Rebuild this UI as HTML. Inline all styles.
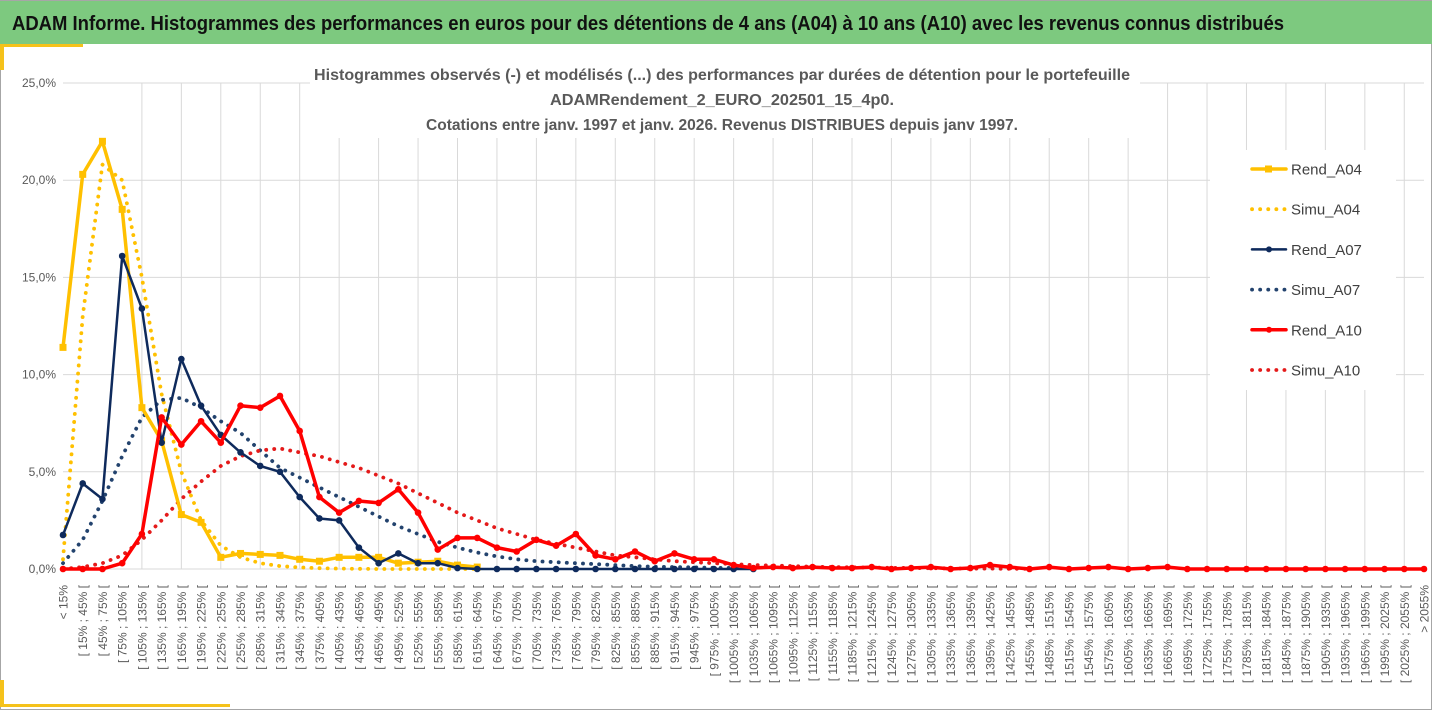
<!DOCTYPE html>
<html><head><meta charset="utf-8"><style>
html,body{margin:0;padding:0;background:#fff;}
svg{display:block;font-family:"Liberation Sans Narrow","Liberation Sans",sans-serif;}
</style></head><body>
<svg id="chart" width="1432" height="710" viewBox="0 0 1432 710">
<rect x="0" y="0" width="1432" height="710" fill="#fff"/>
<rect x="0.5" y="0.5" width="1431" height="709" fill="none" stroke="#a6a6a6"/>
<rect x="0" y="1" width="1432" height="43" fill="#7dc97f"/>
<text x="12" y="30" font-size="20" font-weight="bold" fill="#111" textLength="1272" lengthAdjust="spacingAndGlyphs">ADAM Informe. Histogrammes des performances en euros pour des détentions de 4 ans (A04) à 10 ans (A10) avec les revenus connus distribués</text>
<rect x="0" y="44" width="83" height="3" fill="#f5c21b"/>
<rect x="0" y="44" width="4" height="26" fill="#f5c21b"/>
<rect x="0" y="680" width="4" height="27" fill="#f5c21b"/>
<rect x="0" y="704" width="230" height="3" fill="#f5c21b"/>
<g id="grid"></g>
<g id="yaxis"></g>
<g id="xaxis"></g>
<g id="series"></g>
<rect x="310" y="62" width="830" height="76" fill="#fff"/>
<g font-weight="bold" fill="#595959" font-size="16" text-anchor="middle">
<text x="722" y="80" textLength="816" lengthAdjust="spacingAndGlyphs">Histogrammes observés (-) et modélisés (...) des performances par durées de détention pour le portefeuille</text>
<text x="722" y="105" textLength="344" lengthAdjust="spacingAndGlyphs">ADAMRendement_2_EURO_202501_15_4p0.</text>
<text x="722" y="130" textLength="592" lengthAdjust="spacingAndGlyphs">Cotations entre janv. 1997 et janv. 2026. Revenus DISTRIBUES depuis janv 1997.</text>
</g>
<rect x="1210" y="150" width="186" height="240" fill="#fff"/>
<g id="legend"></g>
</svg>
<script>
const categories = (function(){const a=['< 15%'];for(let v=15;v<2055;v+=30)a.push('[ '+v+'% ; '+(v+30)+'% [');a.push('> 2055%');return a;})();
const rendA04 = [11.4,20.3,22.0,18.5,8.3,6.6,2.8,2.4,0.6,0.8,0.75,0.7,0.5,0.4,0.6,0.6,0.6,0.3,0.35,0.4,0.2,0.1];
const simuA04 = [0.5,13,20.8,20,15,9,5,2.5,1.2,0.6,0.3,0.15,0.08,0.04,0.02,0.01,0,0,0,0,0,0];
const rendA07 = [1.75,4.4,3.6,16.1,13.4,6.5,10.8,8.4,6.9,6.0,5.3,5.0,3.7,2.6,2.5,1.1,0.3,0.8,0.3,0.3,0.05,0,0,0,0,0,0,0,0,0,0,0,0,0,0,0];
const simuA07 = [0.3,1.5,3.5,5.8,7.8,8.7,8.8,8.3,7.6,7.0,6.1,5.2,4.7,4.2,3.7,3.2,2.7,2.2,1.8,1.4,1.1,0.85,0.65,0.5,0.4,0.35,0.3,0.25,0.2,0.15,0.12,0.1,0.08,0.06,0.05,0.04];
const rendA10 = [0,0,0,0.3,1.8,7.8,6.4,7.6,6.5,8.4,8.3,8.9,7.1,3.7,2.9,3.5,3.4,4.1,2.9,1.0,1.6,1.6,1.1,0.9,1.5,1.2,1.8,0.7,0.5,0.9,0.4,0.8,0.5,0.5,0.2,0.05,0.1,0.05,0.1,0.05,0.05,0.1,0,0.05,0.1,0,0.05,0.2,0.1,0,0.1,0,0.05,0.1,0,0.05,0.1,0,0,0,0,0,0,0,0,0,0,0,0,0];
const simuA10 = [0,0.1,0.3,0.7,1.5,2.5,3.6,4.5,5.3,5.8,6.1,6.2,6.0,5.8,5.5,5.2,4.8,4.4,3.9,3.4,2.9,2.5,2.1,1.8,1.5,1.3,1.1,0.9,0.7,0.6,0.5,0.4,0.35,0.3,0.25,0.2,0.18,0.15,0.12,0.1,0.08,0.07,0.06,0.05,0.04,0.03,0.02,0.02,0.01,0.01];
const yTicks = [0,5,10,15,20,25];
const yTickLabels = ['0,0%','5,0%','10,0%','15,0%','20,0%','25,0%'];
const seriesNames = ['Rend_A04','Simu_A04','Rend_A07','Simu_A07','Rend_A10','Simu_A10'];

const NS='http://www.w3.org/2000/svg';
const X0=63,X1=1424,Y0=569,Y1=83,YMAX=25;
const xs=i=>X0+(X1-X0)*i/(categories.length-1);
const ys=v=>Y0-(Y0-Y1)*v/YMAX;
function mk(tag,attrs,parent){const e=document.createElementNS(NS,tag);for(const k in attrs)e.setAttribute(k,attrs[k]);parent.appendChild(e);return e;}
const grid=document.getElementById('grid'),yaxis=document.getElementById('yaxis'),xaxis=document.getElementById('xaxis'),series=document.getElementById('series'),legend=document.getElementById('legend');
yTicks.forEach((t,i)=>{
  const l=mk('line',{x1:X0,x2:X1,y1:ys(t),y2:ys(t),stroke:'#d9d9d9','stroke-width':1},grid);
  
  
  const tx=mk('text',{x:56,y:ys(t)+4,'font-size':12,fill:'#595959','text-anchor':'end'},yaxis);
  tx.textContent=yTickLabels[i];
  
  
});
for(let i=4;i<categories.length;i+=2){
  const l=mk('line',{x1:xs(i),x2:xs(i),y1:Y1,y2:Y0,stroke:'#d9d9d9','stroke-width':1},grid);
  
  
}
categories.forEach((c,i)=>{
  const x=xs(i)+4.5,y=585;
  const tx=mk('text',{x:x,y:y,'font-size':12,fill:'#595959','text-anchor':'end',transform:`rotate(-90 ${x} ${y})`,'font-family':'Liberation Sans, sans-serif'},xaxis);
  tx.textContent=c;
  
  
});
const styles=[
 {data:rendA04,color:'#ffc000',w:3.5,dash:null,marker:'sq'},
 {data:simuA04,color:'#ffc000',w:3.8,dash:'0.1 8',marker:null},
 {data:rendA07,color:'#0e2a5c',w:2.5,dash:null,marker:'c'},
 {data:simuA07,color:'#23436e',w:3.8,dash:'0.1 8',marker:null},
 {data:rendA10,color:'#ff0000',w:3.5,dash:null,marker:'c'},
 {data:simuA10,color:'#e41a1a',w:3.8,dash:'0.1 8',marker:null}
];
const draw=[1,3,5,0,2,4];
draw.forEach(si=>{
  const s=styles[si];
  const pts=s.data.map((v,i)=>xs(i).toFixed(1)+','+ys(v).toFixed(1)).join(' ');
  const g=mk('g',{},series);
  
  
  const a={points:pts,fill:'none',stroke:s.color,'stroke-width':s.w,'stroke-linejoin':'round','stroke-linecap':'round'};
  if(s.dash)a['stroke-dasharray']=s.dash;
  const pl=mk('polyline',a,g);
  
  
  if(s.marker){
    s.data.forEach((v,i)=>{
      let m;
      if(s.marker==='sq')m=mk('rect',{x:xs(i)-3.5,y:ys(v)-3.5,width:7,height:7,fill:s.color},g);
      else m=mk('circle',{cx:xs(i),cy:ys(v),r:3.3,fill:s.color},g);
      
      
    });
  }
});
styles.forEach((s,i)=>{
  const y=169+i*40.2;
  const g=mk('g',{},legend);
  
  
  const a={x1:1252,x2:1286,y1:y,y2:y,stroke:s.color,'stroke-width':s.w,'stroke-linecap':'round'};
  if(s.dash)a['stroke-dasharray']=s.dash;
  mk('line',a,g);
  if(s.marker==='sq')mk('rect',{x:1265,y:y-3.5,width:7,height:7,fill:s.color},g);
  else if(s.marker)mk('circle',{cx:1269,cy:y,r:3,fill:s.color},g);
  const t=mk('text',{x:1291,y:y+5.5,'font-size':15,fill:'#404040','font-family':'Liberation Sans, sans-serif'},g);
  t.textContent=seriesNames[i];
});
</script>
</body></html>
